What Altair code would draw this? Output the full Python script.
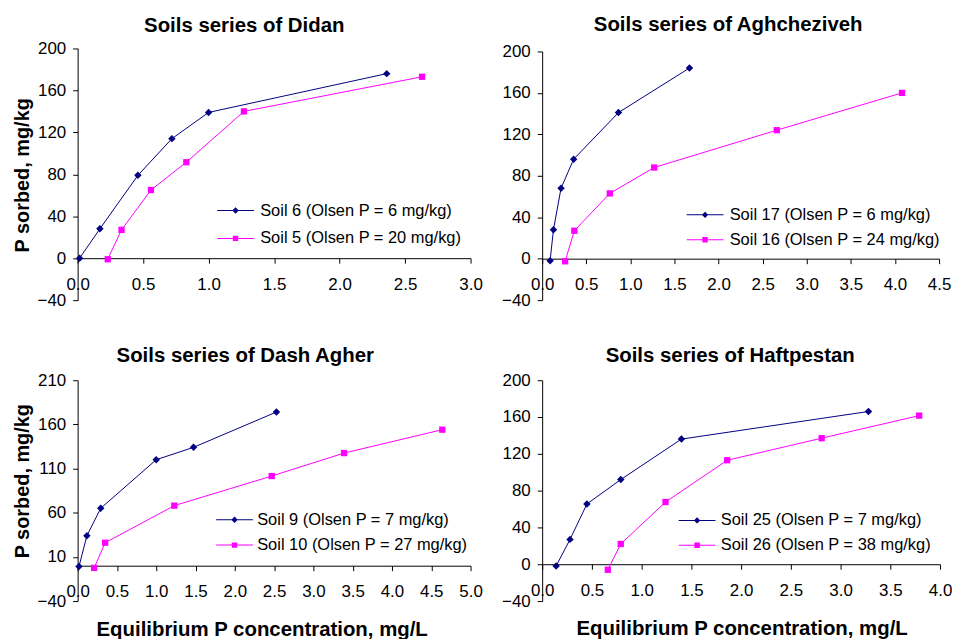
import altair as alt
import pandas as pd

FONT = "Liberation Sans"
NAVY = "#000080"
MAGENTA = "#FF00FF"

# ---------------- data ----------------
didan_names = ["Soil 6 (Olsen P = 6 mg/kg)", "Soil 5 (Olsen P = 20 mg/kg)"]
didan_a_x = [0.015, 0.17, 0.46, 0.72, 1.0, 2.36]
didan_a_y = [0, 28, 79, 114, 139, 176]
didan_b_x = [0.23, 0.335, 0.56, 0.83, 1.27, 2.63]
didan_b_y = [-1, 27, 65, 91.5, 140, 173]

agh_names = ["Soil 17 (Olsen P = 6 mg/kg)", "Soil 16 (Olsen P = 24 mg/kg)"]
agh_a_x = [0.09, 0.128, 0.214, 0.357, 0.865, 1.67]
agh_a_y = [-2, 28, 68, 96, 141, 184]
agh_b_x = [0.26, 0.365, 0.767, 1.27, 2.66, 4.08]
agh_b_y = [-2.5, 27, 63, 88, 124, 160]

dash_names = ["Soil 9 (Olsen P = 7 mg/kg)", "Soil 10 (Olsen P = 27 mg/kg)"]
dash_a_x = [0.017, 0.118, 0.294, 1.0, 1.475, 2.53]
dash_a_y = [-1, 34, 65, 120, 134, 174]
dash_b_x = [0.21, 0.35, 1.23, 2.47, 3.39, 4.64]
dash_b_y = [-2.5, 26, 68, 101.5, 127.5, 154]

haft_names = ["Soil 25 (Olsen P = 7 mg/kg)", "Soil 26 (Olsen P = 38 mg/kg)"]
haft_a_x = [0.14, 0.28, 0.45, 0.79, 1.4, 3.28]
haft_a_y = [-2, 27, 65.5, 92, 136, 166]
haft_b_x = [0.66, 0.79, 1.24, 1.86, 2.81, 3.79]
haft_b_y = [-6, 22, 67.6, 113, 137, 161.5]

titles = ["Soils series of Didan", "Soils series of Aghcheziveh",
          "Soils series of Dash Agher", "Soils series of Haftpestan"]
x_ticks_didan = [0.0, 0.5, 1.0, 1.5, 2.0, 2.5, 3.0]
x_ticks_agh = [0.0, 0.5, 1.0, 1.5, 2.0, 2.5, 3.0, 3.5, 4.0, 4.5]
x_ticks_dash = [0.0, 0.5, 1.0, 1.5, 2.0, 2.5, 3.0, 3.5, 4.0, 4.5, 5.0]
x_ticks_haft = [0.0, 0.5, 1.0, 1.5, 2.0, 2.5, 3.0, 3.5, 4.0]
y_ticks_std = [-40, 0, 40, 80, 120, 160, 200]
y_ticks_dash = [-40, 10, 60, 110, 160, 210]
y_title = "P sorbed, mg/kg"
x_title = "Equilibrium P concentration, mg/L"

# legend glyphs: a short line with the marker in its middle (unit radius = 8 px)
LINE_PART = "M-2.31,-0.065L2.31,-0.065L2.31,0.065L-2.31,0.065Z"
DIAMOND_LEG = LINE_PART + "M0,-0.4L0.4,0L0,0.4L-0.4,0Z"
SQUARE_LEG = LINE_PART + "M-0.34,-0.34L0.34,-0.34L0.34,0.34L-0.34,0.34Z"


def panel(names, ax, ay, bx, by, title, xticks, yticks, width, height,
          yrange, xoffset, title_dx, title_offset, leg_x, leg_y, row_pad,
          label_offset, ytitle_y=None, xtitle_x=None, xtitle_y=None,
          show_ytitle=False, show_xtitle=False):
    df = pd.DataFrame({
        "x": ax + bx,
        "y": ay + by,
        "series": [names[0]] * len(ax) + [names[1]] * len(bx),
    })
    xaxis_kw = dict(values=xticks, format=".1f", offset=xoffset, tickSize=5,
                    labelPadding=13, labelFontSize=17, labelFont=FONT,
                    labelColor="black", domainColor="black", tickColor="black",
                    domainWidth=1, tickWidth=1, grid=False, labelOverlap=False,
                    labelFlush=False)
    if show_xtitle:
        xaxis_kw.update(title=x_title, titleFont=FONT, titleFontSize=20.5,
                        titleFontWeight="bold", titleColor="black",
                        titleX=xtitle_x, titleY=xtitle_y, titleBaseline="top",
                        titleAlign="center")
    else:
        xaxis_kw.update(title=None)
    yaxis_kw = dict(values=yticks, tickSize=5, labelPadding=7, labelFontSize=17,
                    labelFont=FONT, labelColor="black", domainColor="black",
                    tickColor="black", domainWidth=1, tickWidth=1, grid=False,
                    labelOverlap=False, labelFlush=False)
    if show_ytitle:
        yaxis_kw.update(title=y_title, titleFont=FONT, titleFontSize=20,
                        titleFontWeight="bold", titleColor="black",
                        titleX=-45, titleY=ytitle_y, titleAngle=270,
                        titleBaseline="bottom", titleAlign="center")
    else:
        yaxis_kw.update(title=None)

    xenc = alt.X("x:Q", scale=alt.Scale(domain=[xticks[0], xticks[-1]], nice=False, zero=False),
                 axis=alt.Axis(**xaxis_kw))
    yenc = alt.Y("y:Q", scale=alt.Scale(domain=[yticks[0], yticks[-1]], nice=False, zero=False,
                                        range=yrange),
                 axis=alt.Axis(**yaxis_kw))
    base = alt.Chart(df)
    sa = base.transform_filter(alt.datum.series == names[0])
    sb = base.transform_filter(alt.datum.series == names[1])
    line_a = sa.mark_line(strokeWidth=1, color=NAVY).encode(x=xenc, y=yenc)
    line_b = sb.mark_line(strokeWidth=1, color=MAGENTA).encode(x=xenc, y=yenc)
    pts_a = sa.mark_point(shape="diamond", filled=True, size=56, opacity=1,
                          color=NAVY).encode(x=xenc, y=yenc)
    pts_b = sb.mark_point(shape="square", filled=True, size=40, opacity=1,
                          color=MAGENTA).encode(x=xenc, y=yenc)
    leg = alt.Legend(title=None, orient="none", legendX=leg_x, legendY=leg_y,
                     labelFont=FONT, labelFontSize=16.5, labelColor="black",
                     labelLimit=0, symbolSize=16 * 16, symbolStrokeWidth=0,
                     symbolOpacity=1, labelOffset=label_offset,
                     rowPadding=row_pad, padding=0)
    legend_layer = base.transform_filter(alt.datum.x < -999).mark_point(
        filled=True).encode(
        x=xenc, y=yenc,
        color=alt.Color("series:N", scale=alt.Scale(domain=names, range=[NAVY, MAGENTA]),
                        legend=leg),
        shape=alt.Shape("series:N", scale=alt.Scale(domain=names, range=[DIAMOND_LEG, SQUARE_LEG]),
                        legend=leg))
    return alt.layer(line_a, line_b, pts_a, pts_b, legend_layer).properties(
        width=width, height=height,
        title=alt.TitleParams(title, font=FONT, fontSize=20.5, fontWeight="bold",
                              color="black", anchor="middle", frame="group",
                              dx=title_dx, offset=title_offset,
                              baseline="alphabetic"))


p1 = panel(didan_names, didan_a_x, didan_a_y, didan_b_x, didan_b_y, titles[0],
           x_ticks_didan, y_ticks_std, 395, 253, [253, 0], -42.17, -30, -13,
           150.5, 154.7, 11, 16.5, ytitle_y=127, show_ytitle=True)
p2 = panel(agh_names, agh_a_x, agh_a_y, agh_b_x, agh_b_y, titles[1],
           x_ticks_agh, y_ticks_std, 399, 253, [253, 3], -41.67, -12.5, -8.5,
           155.5, 159, 8, 16.5)
p3 = panel(dash_names, dash_a_x, dash_a_y, dash_b_x, dash_b_y, titles[2],
           x_ticks_dash, y_ticks_dash, 395, 222, [222, 0], -35.52, -29, -11.3,
           149.5, 132, 8.5, 14.5, ytitle_y=101, xtitle_x=185, xtitle_y=54,
           show_ytitle=True, show_xtitle=True)
p4 = panel(haft_names, haft_a_x, haft_a_y, haft_b_x, haft_b_y, titles[3],
           x_ticks_haft, y_ticks_std, 400, 222, [222, 0], -37, -11, -11.3,
           147.5, 132.7, 8, 15.5, xtitle_x=200.5, xtitle_y=54.5, show_xtitle=True)

chart = alt.ConcatChart(concat=[p1, p2, p3, p4], columns=2,
                        spacing={"row": 80.5, "column": 72},
                        bounds="flush", align="each").resolve_scale(
    color="independent", shape="independent"
).resolve_legend(
    color="independent", shape="independent"
).properties(
    padding={"left": 5, "top": 5, "right": 0, "bottom": 0},
    background="white",
).configure_view(stroke=None)

chart.save("out.html", embed_options={"renderer": "svg", "actions": False})
